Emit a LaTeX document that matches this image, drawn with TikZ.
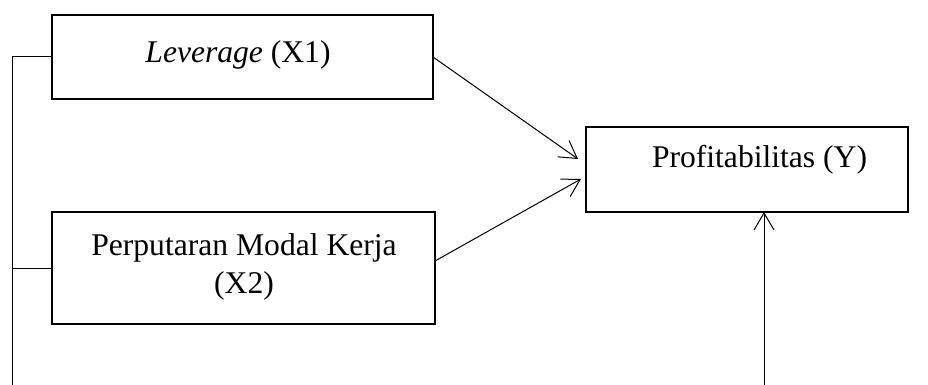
\documentclass[tikz,border=0pt]{standalone}
\usepackage{fontspec}
\setmainfont{Liberation Serif}
\usetikzlibrary{arrows.meta,calc}
\begin{document}
\begin{tikzpicture}[x=1pt,y=-1pt,
  box/.style={draw,line width=1.1pt,inner sep=0pt,outer sep=0pt,anchor=north west},
  lbl/.style={anchor=base,inner sep=0pt,font=\fontsize{31.6}{38}\selectfont},
  conn/.style={line width=1pt},
  arr/.style={conn,-{Straight Barb[length=17pt,width=20pt,line width=1pt]}}]
\useasboundingbox (0,0) rectangle (928,385);
\node[box,minimum width=381pt,minimum height=84pt] (lev) at (52,15) {};
\node[box,minimum width=383pt,minimum height=112pt] (per) at (52,212) {};
\node[box,minimum width=322pt,minimum height=85pt] (prof) at (586,127) {};
\node[lbl] (levt) at (238,63) {\textit{Leverage} (X1)};
\node[lbl] (pert1) at (244,255) {Perputaran Modal Kerja};
\node[lbl] (pert2) at (244,293) {(X2)};
\node[lbl] (proft) at (759.5,167) {Profitabilitas (Y)};
\coordinate (bl) at (12,385);
\coordinate (br) at (764,385);
\draw[conn] (lev.west) -| (bl);
\draw[conn] (per.west) -- (per.west -| bl);
\draw[arr] (lev.east) -- ($(prof.west)+(-8,-10.5)$);
\draw[arr] ($(per.east)+(0,-7)$) -- ($(prof.west)+(-5,9.5)$);
\draw[arr] (br) -- (br |- prof.south);
\end{tikzpicture}
\end{document}
